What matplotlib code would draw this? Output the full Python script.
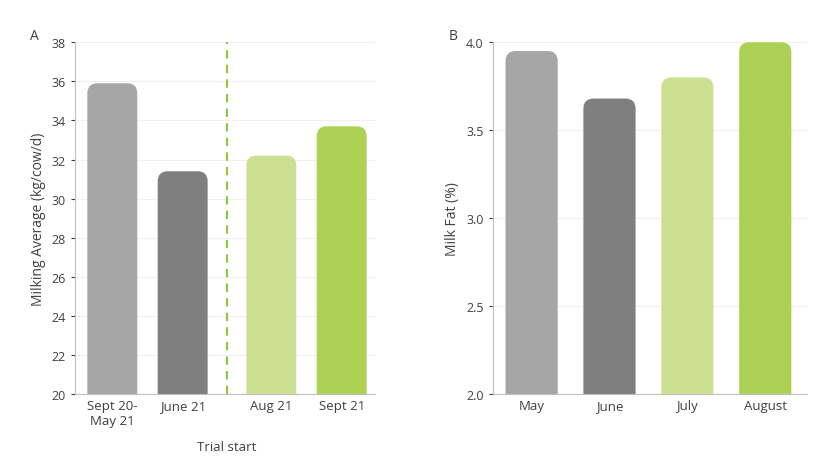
import matplotlib.pyplot as plt
from matplotlib.patches import FancyBboxPatch

plt.rcParams['font.family'] = ['Open Sans', 'DejaVu Sans']

a_labels = ['Sept 20-\nMay 21', 'June 21', 'Aug 21', 'Sept 21']
a_values = [35.9, 31.4, 32.2, 33.7]
a_pos = [0, 1, 2.26, 3.26]

b_labels = ['May', 'June', 'July', 'August']
b_values = [3.95, 3.68, 3.80, 4.0]
b_pos = [0, 1, 2, 3]

colors = ['#a6a6a6', '#7f7f7f', '#cde092', '#add155']
text_c = '#404040'


def rounded_bars(ax, pos, vals, base, width, radius, aspect):
    for x, v, c in zip(pos, vals, colors):
        ax.add_patch(FancyBboxPatch((x - width / 2, base - 2 * radius * aspect), width,
                                    v - base + 2 * radius * aspect,
                                    boxstyle='round,pad=0,rounding_size=%f' % radius,
                                    mutation_aspect=aspect, fc=c, ec='none', zorder=2))


def style(ax):
    for s in ['top', 'right']:
        ax.spines[s].set_visible(False)
    for s in ['left', 'bottom']:
        ax.spines[s].set_color('#bfbfbf')
    ax.grid(axis='y', color='#f0f0f0', lw=0.8, zorder=0)
    ax.tick_params(colors=text_c, labelsize=9, length=3)
    ax.tick_params(axis='x', length=0, labelsize=9.5)


fig = plt.figure(figsize=(8.28, 4.6), dpi=100)

ax1 = fig.add_axes([0.0906, 0.141, 0.362, 0.765])
ax1.set_xlim(-0.53, 3.73)
ax1.set_ylim(20, 38)
rounded_bars(ax1, a_pos, a_values, 20, 0.71, 0.14, 3.73)
ax1.axvline(1.63, color='#8dc63f', ls=(0, (4, 3)), lw=1.5, zorder=3)
ax1.set_xticks(a_pos, a_labels)
ax1.set_yticks(range(20, 39, 2))
ax1.set_ylabel('Milking Average (kg/cow/d)', color=text_c, fontsize=10)
ax1.text(1.63, -0.13, 'Trial start', transform=ax1.get_xaxis_transform(),
         ha='center', va='top', color=text_c, fontsize=9.5)
ax1.text(-0.15, 1.01, 'A', transform=ax1.transAxes, color=text_c, fontsize=10)
style(ax1)

ax2 = fig.add_axes([0.595, 0.141, 0.380, 0.765])
ax2.set_xlim(-0.5, 3.54)
ax2.set_ylim(2.0, 4.0)
rounded_bars(ax2, b_pos, b_values, 2.0, 0.67, 0.13, 0.443)
ax2.set_xticks(b_pos, b_labels)
ax2.set_yticks([2.0, 2.5, 3.0, 3.5, 4.0], ['2.0', '2.5', '3.0', '3.5', '4.0'])
ax2.set_ylabel('Milk Fat (%)', color=text_c, fontsize=10)
ax2.text(-0.14, 1.01, 'B', transform=ax2.transAxes, color=text_c, fontsize=10)
style(ax2)
for a in (ax1, ax2):
    for p in a.patches:
        p.set_clip_on(True)

fig.savefig('out.png', dpi=100)
